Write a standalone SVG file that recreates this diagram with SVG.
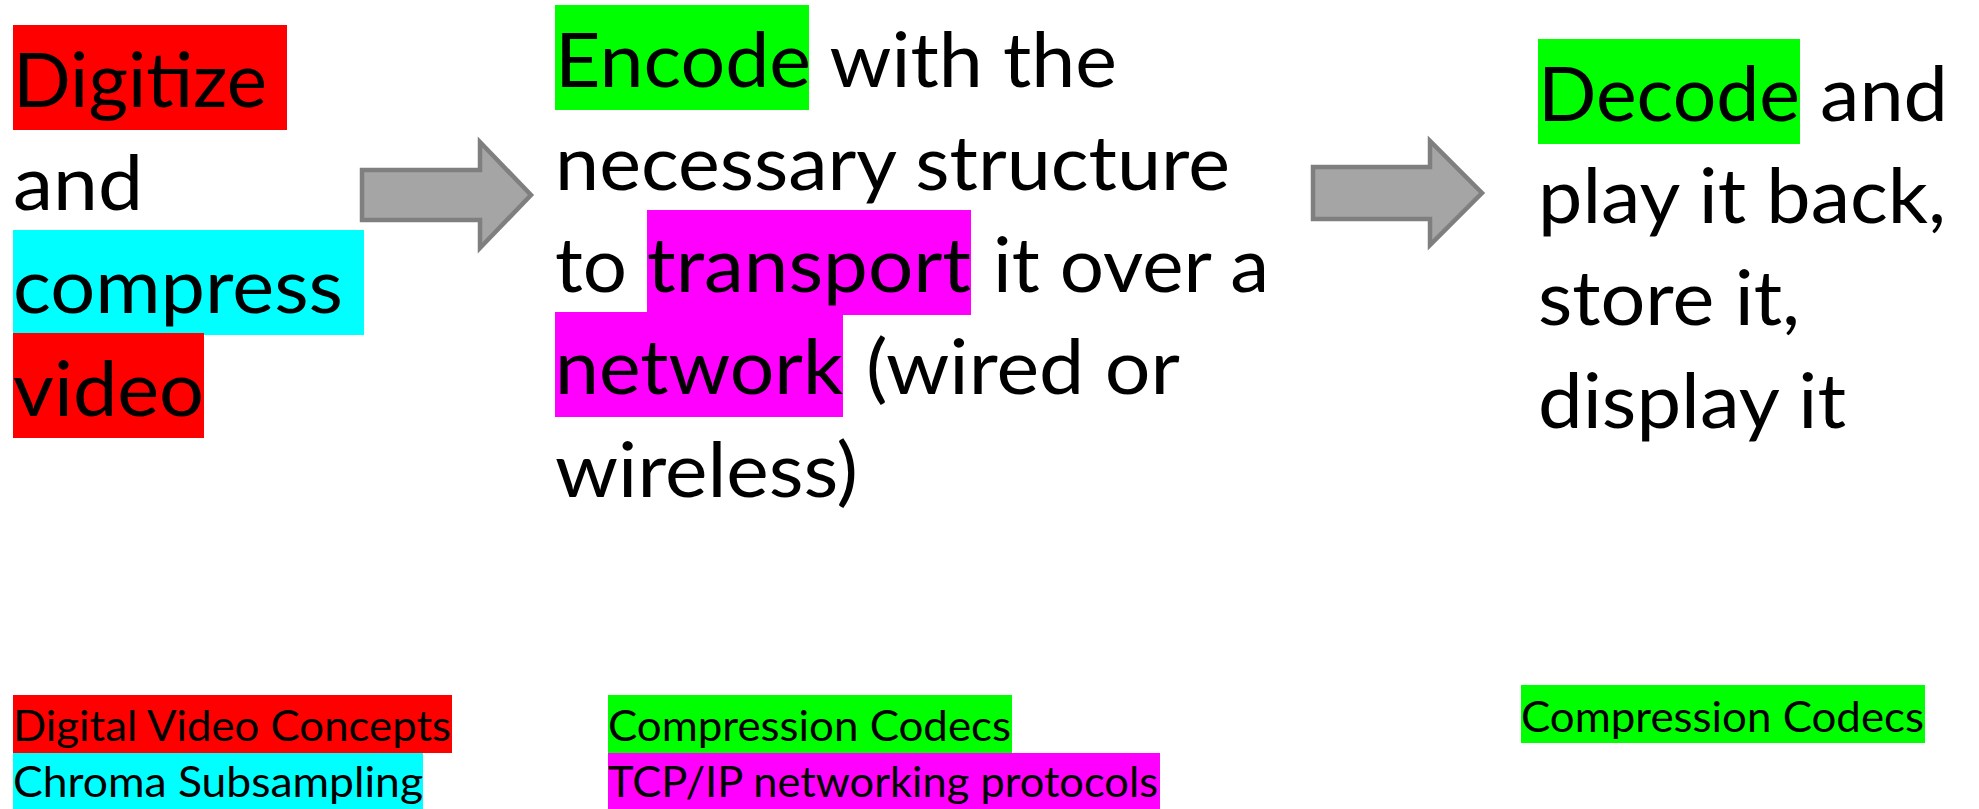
<svg xmlns="http://www.w3.org/2000/svg" width="1979" height="809" viewBox="0 0 1979 809">
<style>
.t{font-family:Lato,"Open Sans","Liberation Sans",sans-serif;font-size:75px;fill:#000}
.s{font-family:Lato,"Open Sans","Liberation Sans",sans-serif;font-size:43px;fill:#000}
.red{fill:#FF0000}.cyan{fill:#00FFFF}.green{fill:#00FF00}.mag{fill:#FF00FF}
.arrow{fill:#A5A5A5;stroke:#7F7F7F;stroke-width:4.5;stroke-linejoin:miter}
</style>
<rect width="1979" height="809" fill="#fff"/>
<g id="step-digitize">
<rect class="red" x="13" y="25" width="274" height="105"/>
<rect class="cyan" x="13" y="230" width="351" height="105"/>
<rect class="red" x="13" y="333" width="191" height="105"/>
<text class="t" x="13" y="107" textLength="254" lengthAdjust="spacingAndGlyphs">Digitize</text>
<text class="t" x="13" y="210" textLength="130" lengthAdjust="spacingAndGlyphs">and</text>
<text class="t" x="13" y="313" textLength="330" lengthAdjust="spacingAndGlyphs">compress</text>
<text class="t" x="13" y="416" textLength="191" lengthAdjust="spacingAndGlyphs">video</text>
</g>
<g id="step-encode">
<rect class="green" x="555" y="5" width="254" height="105"/>
<rect class="mag" x="647" y="210" width="324" height="105"/>
<rect class="mag" x="555" y="312" width="288" height="105"/>
<text class="t" x="555" y="87" textLength="562" lengthAdjust="spacingAndGlyphs">Encode with the</text>
<text class="t" x="555" y="190" textLength="675" lengthAdjust="spacingAndGlyphs">necessary structure</text>
<text class="t" x="555" y="292" textLength="72" lengthAdjust="spacingAndGlyphs">to</text>
<text class="t" x="647" y="292" textLength="324" lengthAdjust="spacingAndGlyphs">transport</text>
<text class="t" x="993" y="292" textLength="276" lengthAdjust="spacingAndGlyphs">it over a</text>
<text class="t" x="555" y="394" textLength="288" lengthAdjust="spacingAndGlyphs">network</text>
<text class="t" x="866" y="394" textLength="314" lengthAdjust="spacingAndGlyphs">(wired or</text>
<text class="t" x="555" y="497" textLength="303" lengthAdjust="spacingAndGlyphs">wireless)</text>
</g>
<g id="step-decode">
<rect class="green" x="1538" y="39" width="262" height="105"/>
<text class="t" x="1538" y="121" textLength="262" lengthAdjust="spacingAndGlyphs">Decode</text>
<text class="t" x="1820" y="121" textLength="128" lengthAdjust="spacingAndGlyphs">and</text>
<text class="t" x="1538" y="223" textLength="408" lengthAdjust="spacingAndGlyphs">play it back,</text>
<text class="t" x="1538" y="325" textLength="262" lengthAdjust="spacingAndGlyphs">store it,</text>
<text class="t" x="1538" y="428" textLength="308" lengthAdjust="spacingAndGlyphs">display it</text>
</g>
<g id="legend-left">
<rect class="red" x="13" y="695" width="439" height="58"/>
<rect class="cyan" x="13" y="753" width="410" height="56"/>
<text class="s" x="13" y="741" textLength="438" lengthAdjust="spacingAndGlyphs">Digital Video Concepts</text>
<text class="s" x="13" y="797" textLength="410" lengthAdjust="spacingAndGlyphs">Chroma Subsampling</text>
</g>
<g id="legend-middle">
<rect class="green" x="608" y="695" width="404" height="58"/>
<rect class="mag" x="608" y="753" width="552" height="56"/>
<text class="s" x="608" y="741" textLength="403" lengthAdjust="spacingAndGlyphs">Compression Codecs</text>
<text class="s" x="608" y="797" textLength="550" lengthAdjust="spacingAndGlyphs">TCP/IP networking protocols</text>
</g>
<g id="legend-right">
<rect class="green" x="1521" y="685" width="404" height="58"/>
<text class="s" x="1521" y="732" textLength="403" lengthAdjust="spacingAndGlyphs">Compression Codecs</text>
</g>
<g id="connectors">
<path class="arrow" d="M362,170 H480 V142 L531,195 L480,248 V220 H362 Z"/>
<path class="arrow" d="M1313,167 H1430 V141 L1482,193 L1430,245 V219 H1313 Z"/>
</g>
</svg>
